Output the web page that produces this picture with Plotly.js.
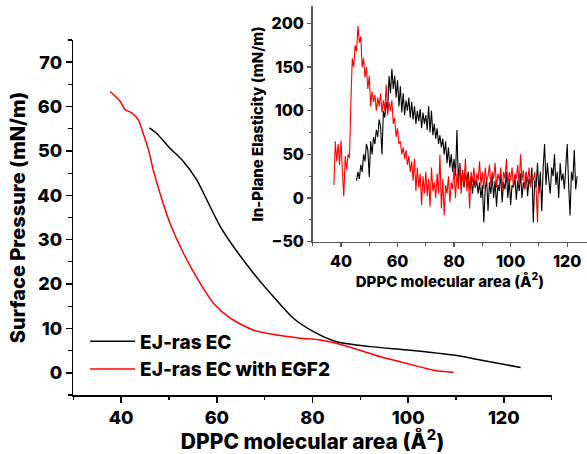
<!DOCTYPE html>
<html>
<head>
<meta charset="utf-8">
<script src="https://cdn.plot.ly/plotly-3.0.1.min.js"></script>
<style>html,body{margin:0;padding:0;background:#fff;}#chart{width:587px;height:454px;}</style>
</head>
<body>
<div id="chart"></div>
<script>
// Main isotherm: EJ-ras EC (black)
const isoBlackX = [45.9, 47.4, 50.2, 52.7, 55.8, 57.9, 60.7, 63.5, 67.7, 71.8, 76.0, 80.2, 85.1, 92.1, 100.4, 109.5, 115.1, 123.5];
const isoBlackY = [55.2, 54.0, 50.6, 48.0, 43.5, 39.0, 33.0, 28.4, 22.4, 17.2, 12.3, 9.3, 7.0, 5.9, 5.1, 4.0, 2.9, 1.2];
// Main isotherm: EJ-ras EC with EGF2 (red)
const isoRedX = [37.7, 39.8, 40.8, 42.2, 43.6, 44.6, 45.7, 46.7, 48.1, 50.2, 53.0, 56.5, 59.3, 62.8, 67.7, 72.6, 77.4, 81.6, 87.2, 94.2, 100.4, 105.3, 109.5];
const isoRedY = [63.4, 61.2, 59.3, 58.6, 57.0, 54.0, 50.3, 45.8, 40.5, 33.7, 27.0, 20.2, 15.7, 12.3, 9.6, 8.5, 7.8, 7.4, 6.0, 3.6, 1.9, 0.6, 0.1];

// Inset: in-plane elasticity, red series
const elRedX = [37.5,38,38.5,39,39.5,40,40.5,41,41.5,42,42.5,43,43.5,44,44.5,45,45.5,46,46.5,47,47.5,48,48.5,49,49.5,50,50.5,51,51.5,52,52.5,53,53.5,54,54.5,55,55.5,56,56.5,57,57.5,58,58.5,59,59.5,60,60.5,61,61.5,62,62.5,63,63.5,64,64.5,65,65.5,66,66.5,67,67.5,68,68.5,69,69.5,70,70.5,71,71.5,72,72.5,73,73.5,74,74.5,75,75.5,76,76.5,77,77.5,78,78.5,79,79.5,80,80.5,81,81.5,82,82.5,83,83.5,84,84.5,85,85.5,86,86.5,87,87.5,88,88.5,89,89.5,90,90.5,91,91.5,92,92.5,93,93.5,94,94.5,95,95.5,96,96.5,97,97.5,98,98.5,99,99.5,100,100.5,101,101.5,102,102.5,103,103.5,104,104.5,105,105.5,106,106.5,107,107.5,108,108.5,109,109.5,109.8];
const elRedY = [15,65,42,62,38,66,30,2,48,32,50,46,110,160,150,175,168,197,178,185,150,160,138,150,125,140,105,122,110,118,100,115,105,120,98,112,100,130,95,110,100,112,85,92,70,80,62,65,50,58,45,55,38,48,30,42,20,45,8,35,12,28,-8,25,5,30,2,22,-10,35,8,18,0,28,5,50,-12,22,-20,15,5,25,-5,18,10,35,0,28,10,40,5,30,15,45,8,25,-12,30,18,35,12,28,20,42,15,30,10,35,20,25,38,15,30,22,40,12,28,20,35,8,30,22,45,15,30,20,35,12,28,22,38,15,50,20,32,10,28,18,35,12,25,20,30,10,-28,15];

// Inset: in-plane elasticity, black series
const elBlackX = [45.5,46,46.5,47,47.5,48,48.5,49,49.5,50,50.5,51,51.5,52,52.5,53,53.5,54,54.5,55,55.5,56,56.5,57,57.5,58,58.5,59,59.5,60,60.5,61,61.5,62,62.5,63,63.5,64,64.5,65,65.5,66,66.5,67,67.5,68,68.5,69,69.5,70,70.5,71,71.5,72,72.5,73,73.5,74,74.5,75,75.5,76,76.5,77,77.5,78,78.5,79,79.5,80,80.5,81,81.5,82,82.5,83,83.5,84,84.5,85,85.5,86,86.5,87,87.5,88,88.5,89,89.5,90,90.5,91,91.5,92,92.5,93,93.5,94,94.5,95,95.5,96,96.5,97,97.5,98,98.5,99,99.5,100,100.5,101,101.5,102,102.5,103,103.5,104,104.5,105,105.5,106,106.5,107,107.5,108,108.5,109,109.5,110,110.5,111,111.5,112,112.5,113,113.5,114,114.5,115,115.5,116,116.5,117,117.5,118,118.5,119,119.5,120,120.5,121,121.5,122,122.5,123,123.5];
const elBlackY = [20,30,22,38,30,50,42,62,55,24,65,50,70,62,78,70,90,82,50,100,92,110,100,140,120,148,125,140,115,135,105,128,98,120,95,112,100,115,92,110,90,105,85,100,88,102,80,98,85,95,78,105,75,100,72,85,68,80,62,72,58,68,50,65,40,58,35,50,30,45,25,78,20,40,15,32,12,28,18,30,10,25,5,22,12,20,5,18,0,15,-28,10,22,-15,18,5,25,0,20,-10,15,8,28,-5,18,10,30,0,22,-8,15,12,25,-2,20,8,28,0,18,10,30,2,22,15,35,-28,20,12,40,5,30,-15,35,62,15,40,20,5,35,25,50,15,30,0,40,20,28,10,35,62,15,-20,30,20,55,10,25];

const seriesNames = ['EJ-ras EC', 'EJ-ras EC with EGF2'];
const mainXTitle = 'DPPC molecular area (Å<sup>2</sup>)';
const mainYTitle = 'Surface Pressure (mN/m)';
const insetYTitle = 'In-Plane Elasticity (mN/m)';

const FONT = 'Inter';
const WT = 800;

const traces = [
  {x: isoBlackX, y: isoBlackY, type: 'scatter', mode: 'lines', name: seriesNames[0],
   line: {color: '#000000', width: 1.5, shape: 'spline', smoothing: 0.7}, xaxis: 'x', yaxis: 'y'},
  {x: isoRedX, y: isoRedY, type: 'scatter', mode: 'lines', name: seriesNames[1],
   line: {color: '#ff0000', width: 1.5, shape: 'spline', smoothing: 0.7}, xaxis: 'x', yaxis: 'y'},
  {x: elBlackX, y: elBlackY, type: 'scatter', mode: 'lines', showlegend: false,
   line: {color: '#000000', width: 1.1}, xaxis: 'x2', yaxis: 'y2'},
  {x: elRedX, y: elRedY, type: 'scatter', mode: 'lines', showlegend: false,
   line: {color: '#ff0000', width: 1.1}, xaxis: 'x2', yaxis: 'y2'}
];

const W = 587, H = 454;
const layout = {
  width: W, height: H,
  margin: {l: 0, r: 0, t: 0, b: 0},
  paper_bgcolor: '#ffffff', plot_bgcolor: 'rgba(0,0,0,0)',
  font: {family: FONT, color: '#000', weight: WT},
  showlegend: true,
  legend: {x: 0.145, y: 0.29, xanchor: 'left', yanchor: 'top', bgcolor: 'rgba(0,0,0,0)',
           itemwidth: 45,
           font: {family: FONT, size: 19, weight: WT, color: '#000'}, tracegroupgap: 0},
  xaxis: {
    domain: [73.3 / W, 551.7 / W], range: [30, 130], anchor: 'y',
    showline: true, linecolor: '#000', linewidth: 1.6, mirror: false,
    showgrid: false, zeroline: false,
    ticks: 'outside', ticklen: 6, tickwidth: 1.4, tickcolor: '#000',
    tick0: 0, dtick: 20,
    minor: {ticks: 'outside', ticklen: 3.5, tickwidth: 1.2, tickcolor: '#000', dtick: 10, tick0: 0, showgrid: false},
    tickfont: {family: FONT, size: 18, weight: WT},
    title: {text: mainXTitle, font: {family: FONT, size: 21, weight: WT}, standoff: 8}
  },
  yaxis: {
    domain: [1 - 395 / H, 1 - 40 / H], range: [-5, 75], anchor: 'x',
    showline: true, linecolor: '#000', linewidth: 1.6, mirror: false,
    showgrid: false, zeroline: false,
    ticks: 'outside', ticklen: 6, tickwidth: 1.4, tickcolor: '#000',
    tick0: 0, dtick: 10,
    minor: {ticks: 'outside', ticklen: 3.5, tickwidth: 1.2, tickcolor: '#000', dtick: 5, tick0: 0, showgrid: false},
    tickfont: {family: FONT, size: 18, weight: WT},
    title: {text: mainYTitle, font: {family: FONT, size: 20, weight: WT}, standoff: 6}
  },
  xaxis2: {
    domain: [312.7 / W, 1], range: [30, 127], anchor: 'y2',
    showline: true, linecolor: '#555', linewidth: 1.6, mirror: false,
    showgrid: false, zeroline: false,
    ticks: 'outside', ticklen: 4, tickwidth: 1.3, tickcolor: '#555',
    tick0: 0, dtick: 20,
    minor: {ticks: 'outside', ticklen: 2.5, tickwidth: 1.1, tickcolor: '#555', dtick: 10, tick0: 0, showgrid: false},
    tickfont: {family: FONT, size: 16, weight: WT},
    title: {text: mainXTitle, font: {family: FONT, size: 15, weight: WT}, standoff: 2}
  },
  yaxis2: {
    domain: [1 - 241.7 / H, 1 - 6 / H], range: [-50, 220], anchor: 'x2',
    showline: true, linecolor: '#555', linewidth: 1.6, mirror: false,
    showgrid: false, zeroline: false,
    ticks: 'outside', ticklen: 4, tickwidth: 1.3, tickcolor: '#555',
    tick0: 0, dtick: 50,
    minor: {ticks: 'outside', ticklen: 2.5, tickwidth: 1.1, tickcolor: '#555', dtick: 25, tick0: 0, showgrid: false},
    tickfont: {family: FONT, size: 16, weight: WT},
    title: {text: insetYTitle, font: {family: FONT, size: 15, weight: WT}, standoff: 4}
  }
};

Plotly.newPlot('chart', traces, layout, {displayModeBar: false, staticPlot: true});
</script>
</body>
</html>
